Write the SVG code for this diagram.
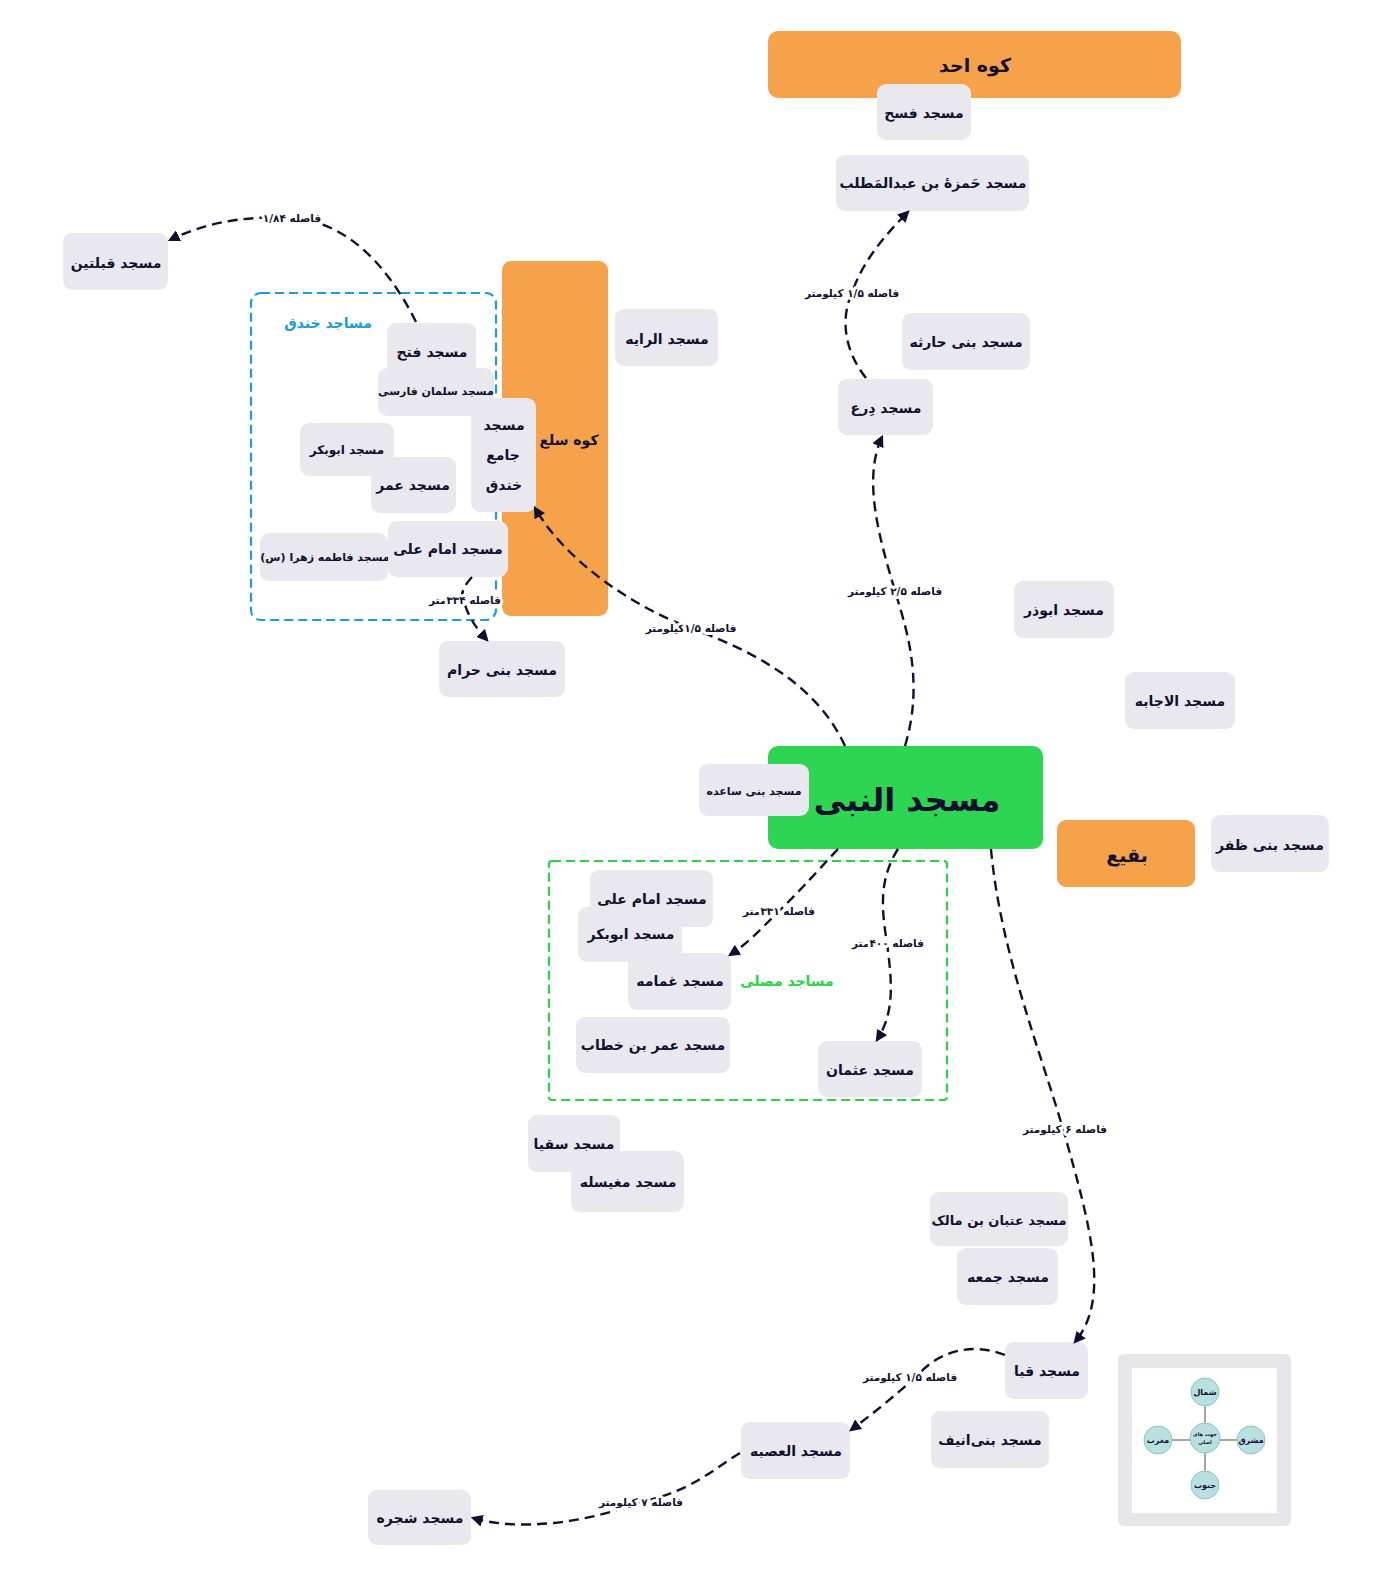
<svg xmlns="http://www.w3.org/2000/svg" width="1400" height="1577" viewBox="0 0 1400 1577">
<defs>
<style>
.n{fill:#e9e8ee}
.o{fill:#f6a24b}
.g{fill:#2dd552}
text{font-family:"DejaVu Sans","Noto Sans",sans-serif;font-weight:bold;fill:#10102e;direction:rtl;text-anchor:middle;dominant-baseline:central}
.t{font-size:14px}
.s{font-size:11px}
.big{font-size:19px}
.lbl{font-size:10.5px;stroke:#fff;stroke-width:6px;paint-order:stroke;stroke-linejoin:round}
.c{fill:none;stroke:#10102e;stroke-width:2.4;stroke-dasharray:10 6;marker-end:url(#ah)}
.cn{fill:none;stroke:#10102e;stroke-width:2.4;stroke-dasharray:10 6}
.cc{fill:#b9dfe1;stroke:#8fc3c6;stroke-width:1}
.ct{font-size:8px}
</style>
<marker id="ah" viewBox="0 0 10 10" refX="8" refY="5" markerWidth="5" markerHeight="5" orient="auto-start-reverse">
<path d="M0,0 L10,5 L0,10 z" fill="#10102e"/>
</marker>
</defs>
<rect width="1400" height="1577" fill="#fff"/>

<g id="ohod"><rect class="o" x="768" y="31" width="413" height="67" rx="10"/><text class="big" x="975" y="65">کوه احد</text></g>
<g id="fash"><rect class="n" x="877" y="84" width="94" height="56" rx="9"/><text class="t" x="924" y="113">مسجد فسح</text></g>
<g id="hamza"><rect class="n" x="836" y="155" width="193" height="56" rx="9"/><text class="t" x="933" y="183">مسجد حَمزهٔ بن عبدالمَطلب</text></g>
<g id="baniharetha"><rect class="n" x="902" y="313" width="128" height="57" rx="9"/><text class="t" x="966" y="342">مسجد بنی حارثه</text></g>
<g id="dera"><rect class="n" x="838" y="379" width="95" height="56" rx="9"/><text class="t" x="886" y="408">مسجد دِرع</text></g>
<g id="raye"><rect class="n" x="615" y="309" width="103" height="57" rx="9"/><text class="t" x="667" y="339">مسجد الرایه</text></g>
<g id="qiblatain"><rect class="n" x="63" y="233" width="105" height="57" rx="9"/><text class="t" x="116" y="263">مسجد قبلتین</text></g>

<g id="sala"><rect class="o" x="502" y="261" width="106" height="355" rx="9"/><text class="t" x="569" y="440">کوه سلع</text></g>
<g id="khandaq-group"><rect x="251" y="293" width="245" height="327" rx="10" fill="none" stroke="#1b9bd8" stroke-width="2.2" stroke-dasharray="9 5"/><text class="t" x="328" y="323" style="fill:#1b9bd8">مساجد خندق</text></g>
<g id="fath"><rect class="n" x="387" y="323" width="89" height="57" rx="9"/><text class="t" x="432" y="352">مسجد فتح</text></g>
<g id="salman"><rect class="n" x="378" y="368" width="116" height="48" rx="9"/><text class="s" x="436" y="391">مسجد سلمان فارسی</text></g>
<g id="jame"><rect class="n" x="471" y="398" width="65" height="114" rx="9"/><text class="t" x="504" y="425">مسجد</text><text class="t" x="503" y="455">جامع</text><text class="t" x="504" y="485">خندق</text></g>
<g id="abubakr1"><rect class="n" x="300" y="423" width="94" height="53" rx="9"/><text class="s" x="347" y="450" style="font-size:12px">مسجد ابوبکر</text></g>
<g id="omar1"><rect class="n" x="371" y="457" width="85" height="56" rx="9"/><text class="t" x="413" y="485">مسجد عمر</text></g>
<g id="fatemeh"><rect class="n" x="260" y="533" width="128" height="48" rx="9"/><text class="s" x="325" y="557">مسجد فاطمه زهرا (س)</text></g>
<g id="ali1"><rect class="n" x="388" y="521" width="120" height="56" rx="9"/><text class="t" x="448" y="549">مسجد امام علی</text></g>
<g id="baniharam"><rect class="n" x="439" y="641" width="126" height="56" rx="9"/><text class="t" x="502" y="670">مسجد بنی حرام</text></g>

<g id="abuzar"><rect class="n" x="1014" y="581" width="100" height="57" rx="9"/><text class="t" x="1064" y="610">مسجد ابوذر</text></g>
<g id="ejabe"><rect class="n" x="1125" y="672" width="110" height="57" rx="9"/><text class="t" x="1180" y="701">مسجد الاجابه</text></g>
<g id="nabi"><rect class="g" x="768" y="746" width="275" height="103" rx="10"/><text x="907" y="800" style="font-size:32px">مسجد النبی</text></g>
<g id="banisaede"><rect class="n" x="699" y="764" width="110" height="52" rx="9"/><text class="s" x="754" y="791">مسجد بنی ساعده</text></g>
<g id="baqi"><rect class="o" x="1057" y="820" width="138" height="67" rx="9"/><text class="big" x="1127" y="855">بقیع</text></g>
<g id="banizafar"><rect class="n" x="1211" y="815" width="118" height="57" rx="9"/><text class="t" x="1270" y="845">مسجد بنی ظفر</text></g>

<g id="mosala-group"><rect x="549" y="861" width="398" height="239" rx="3" fill="none" stroke="#27d447" stroke-width="2.2" stroke-dasharray="9 5"/><text class="t" x="787" y="981" style="fill:#27d447">مساجد مصلی</text></g>
<g id="ali2"><rect class="n" x="590" y="870" width="123" height="57" rx="9"/><text class="t" x="652" y="899">مسجد امام علی</text></g>
<g id="abubakr2"><rect class="n" x="578" y="907" width="104" height="55" rx="9"/><text class="t" x="631" y="934">مسجد ابوبکر</text></g>
<g id="ghamame"><rect class="n" x="628" y="953" width="103" height="57" rx="9"/><text class="t" x="680" y="981">مسجد غمامه</text></g>
<g id="omar2"><rect class="n" x="576" y="1017" width="154" height="56" rx="9"/><text class="t" x="653" y="1045">مسجد عمر بن خطاب</text></g>
<g id="osman"><rect class="n" x="818" y="1041" width="104" height="56" rx="9"/><text class="t" x="870" y="1070">مسجد عثمان</text></g>

<g id="soqya"><rect class="n" x="528" y="1115" width="92" height="57" rx="9"/><text class="t" x="574" y="1144">مسجد سقیا</text></g>
<g id="moghaisele"><rect class="n" x="571" y="1151" width="113" height="61" rx="9"/><text class="t" x="628" y="1182">مسجد مغیسله</text></g>
<g id="etban"><rect class="n" x="930" y="1192" width="138" height="54" rx="9"/><text class="t" x="999" y="1220" style="font-size:13px">مسجد عتبان بن مالک</text></g>
<g id="jome"><rect class="n" x="957" y="1248" width="101" height="57" rx="9"/><text class="t" x="1008" y="1277">مسجد جمعه</text></g>
<g id="quba"><rect class="n" x="1005" y="1342" width="83" height="57" rx="9"/><text class="t" x="1047" y="1371">مسجد قبا</text></g>
<g id="banianif"><rect class="n" x="931" y="1411" width="118" height="57" rx="9"/><text class="t" x="990" y="1440">مسجد بنی‌انیف</text></g>
<g id="osbe"><rect class="n" x="741" y="1422" width="109" height="57" rx="9"/><text class="t" x="796" y="1451">مسجد العصبه</text></g>
<g id="shajare"><rect class="n" x="368" y="1490" width="103" height="55" rx="9"/><text class="t" x="420" y="1518">مسجد شجره</text></g>

<g id="compass">
<rect x="1118" y="1354" width="173" height="172" rx="6" fill="#e6e6ea"/>
<rect x="1132" y="1368" width="145" height="145" fill="#fff"/>
<path d="M1205,1392 V1485 M1158,1440 H1251" stroke="#888" stroke-width="1.5"/>
<circle class="cc" cx="1205" cy="1392" r="14"/><text class="ct" x="1205" y="1392">شمال</text>
<circle class="cc" cx="1251" cy="1440" r="14"/><text class="ct" x="1251" y="1440">مشرق</text>
<circle class="cc" cx="1158" cy="1440" r="14"/><text class="ct" x="1158" y="1440">مغرب</text>
<circle class="cc" cx="1205" cy="1485" r="14"/><text class="ct" x="1205" y="1485">جنوب</text>
<circle class="cc" cx="1205" cy="1438" r="15"/><text class="ct" x="1205" y="1434" style="font-size:5px">جهت های</text><text class="ct" x="1205" y="1442" style="font-size:5px">اصلی</text>
</g>

<g id="connectors">
<path class="c" d="M416,322 C390,270 350,222 292,218 C240,215 200,225 170,240"/>
<text class="lbl" x="292" y="218">فاصله ۱/۸۴</text>
<path class="c" d="M845,746 C815,680 745,648 690,628 C630,605 565,560 535,508"/>
<text class="lbl" x="691" y="628">فاصله ۱/۵کیلومتر</text>
<path class="c" d="M905,746 C925,680 905,625 895,591 C880,540 862,480 882,437"/>
<text class="lbl" x="895" y="591">فاصله ۲/۵ کیلومتر</text>
<path class="c" d="M866,378 C840,345 843,312 852,293 C862,262 885,235 908,212"/>
<text class="lbl" x="852" y="293">فاصله ۱/۵ کیلومتر</text>
<path class="c" d="M472,577 C460,590 460,600 465,605 C470,620 478,630 487,640"/>
<text class="lbl" x="465" y="600">فاصله ۳۳۴متر</text>
<path class="c" d="M838,849 C812,877 796,895 779,911 C760,930 747,944 730,955"/>
<text class="lbl" x="779" y="911">فاصله ۳۳۱متر</text>
<path class="c" d="M898,849 C878,880 882,912 887,943 C892,982 895,1012 877,1040"/>
<text class="lbl" x="888" y="943">فاصله ۴۰۰متر</text>
<path class="c" d="M991,849 C1000,950 1040,1050 1063,1129 C1092,1230 1110,1300 1075,1342"/>
<text class="lbl" x="1065" y="1129">فاصله ۶ کیلومتر</text>
<path class="c" d="M1005,1355 C975,1343 945,1350 925,1368 C900,1392 875,1412 851,1430"/>
<text class="lbl" x="910" y="1377">فاصله ۱/۵ کیلومتر</text>
<path class="c" d="M740,1453 C712,1470 690,1492 640,1502 C590,1522 520,1532 473,1518"/>
<text class="lbl" x="641" y="1502">فاصله ۷ کیلومتر</text>
</g>
</svg>
